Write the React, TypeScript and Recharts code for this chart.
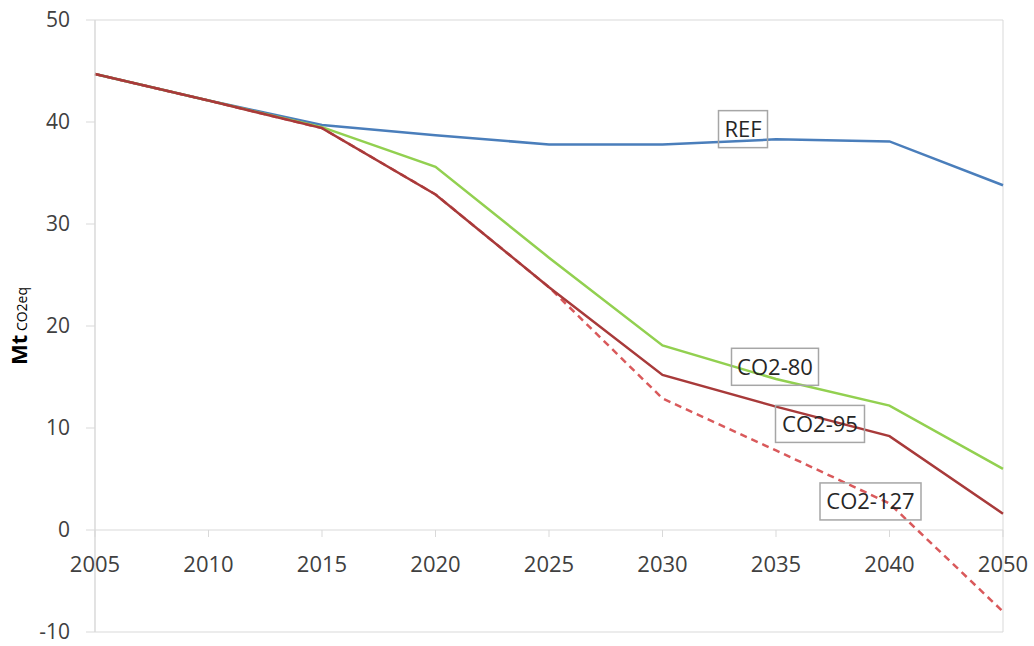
import React from 'react';
import { LineChart, Line, XAxis, YAxis, ReferenceLine, ReferenceArea, ReferenceDot } from 'recharts';

const years = ['2005', '2010', '2015', '2020', '2025', '2030', '2035', '2040', '2050'];
const refValues = [44.7, 42.1, 39.7, 38.7, 37.8, 37.8, 38.3, 38.1, 33.8];
const co2_80 = [44.7, 42.1, 39.5, 35.6, 26.7, 18.1, 14.8, 12.2, 6.0];
const co2_95 = [44.7, 42.1, 39.4, 32.9, 23.8, 15.2, 12.1, 9.2, 1.6];
const co2_127 = [44.7, 42.1, 39.4, 32.9, 23.8, 12.9, 7.8, 2.6, -8.0];
const yTicks = [-10, 0, 10, 20, 30, 40, 50];

const seriesLabels = [
  { text: 'REF', x: '2035', y: 39.3, dx: -33, w: 49 },
  { text: 'CO2-80', x: '2035', y: 16.0, dx: -1, w: 87 },
  { text: 'CO2-95', x: '2035', y: 10.4, dx: 44, w: 89 },
  { text: 'CO2-127', x: '2040', y: 2.8, dx: -19, w: 101 },
];

const data = years.map((year, i) => ({
  year,
  ref: refValues[i],
  c80: co2_80[i],
  c95: co2_95[i],
  c127: co2_127[i],
}));

const FONT = '"Open Sans", sans-serif';
const TEXT = '#404040';
const GRID = '#D9D9D9';

const XTick = (props: any) => {
  const { cx, cy, label } = props;
  return (
    <g>
      <line x1={cx} y1={cy} x2={cx} y2={cy + 7} stroke={GRID} strokeWidth={1} />
      <text x={cx} y={cy + 42} textAnchor="middle" fontFamily={FONT} fontSize={22} fill={TEXT}>
        {label}
      </text>
    </g>
  );
};

const BoxLabel = (props: any) => {
  const { cx, cy, text, dx, w } = props;
  const x = cx + dx;
  const h = 37;
  return (
    <g>
      <rect x={x - w / 2} y={cy - h / 2} width={w} height={h} fill="none" stroke="#A6A6A6" strokeWidth={1.5} />
      <text x={x} y={cy + 8} textAnchor="middle" fontFamily={FONT} fontSize={22} fill="#262626">
        {text}
      </text>
    </g>
  );
};

const YLabel = (props: any) => {
  const vb = props.viewBox || { x: 0, y: 0, width: 0, height: 0 };
  const x = vb.x + 27;
  const y = vb.y + vb.height / 2;
  return (
    <text x={x} y={y} transform={`rotate(-90, ${x}, ${y})`} textAnchor="middle" fontFamily={FONT} fill="#000">
      <tspan fontWeight="bold" fontSize={22}>Mt</tspan>
      <tspan fontSize={14}> CO2eq</tspan>
    </text>
  );
};

export default function App() {
  return (
    <div style={{ width: 1034, height: 646, background: '#fff' }}>
      <style>{`body{margin:0;}`}</style>
      <LineChart width={1034} height={646} data={data} margin={{ top: 20, right: 31, bottom: 14, left: 0 }}>
        <XAxis dataKey="year" hide padding={{ left: 0, right: 0 }} />
        <YAxis
          width={95}
          domain={[-10, 50]}
          ticks={yTicks}
          interval={0}
          axisLine={{ stroke: GRID, strokeWidth: 1 }}
          tickLine={{ stroke: GRID, strokeWidth: 1 }}
          tickSize={9}
          tickMargin={16}
          tick={{ fontFamily: FONT, fontSize: 21, fill: TEXT }}
          label={<YLabel />}
        />
        <ReferenceArea x1="2005" x2="2050" y1={-10} y2={50} fill="none" stroke={GRID} strokeWidth={1} ifOverflow="visible" />
        <ReferenceLine y={0} stroke={GRID} strokeWidth={1} />
        {years.map((yr) => (
          <ReferenceDot key={yr} x={yr} y={0} r={0} ifOverflow="visible" shape={(p: any) => <XTick {...p} label={yr} />} />
        ))}
        <Line dataKey="ref" stroke="#4A7EBB" strokeWidth={2.5} dot={false} isAnimationActive={false} />
        <Line dataKey="c80" stroke="#92D050" strokeWidth={2.5} dot={false} isAnimationActive={false} />
        <Line dataKey="c127" stroke="#D9595B" strokeWidth={2.5} strokeDasharray="7 5" dot={false} isAnimationActive={false} />
        <Line dataKey="c95" stroke="#A83A3A" strokeWidth={2.5} dot={false} isAnimationActive={false} />
        {seriesLabels.map((l) => (
          <ReferenceDot
            key={l.text}
            x={l.x}
            y={l.y}
            r={0}
            ifOverflow="visible"
            shape={(p: any) => <BoxLabel {...p} text={l.text} dx={l.dx} w={l.w} />}
          />
        ))}
      </LineChart>
    </div>
  );
}
